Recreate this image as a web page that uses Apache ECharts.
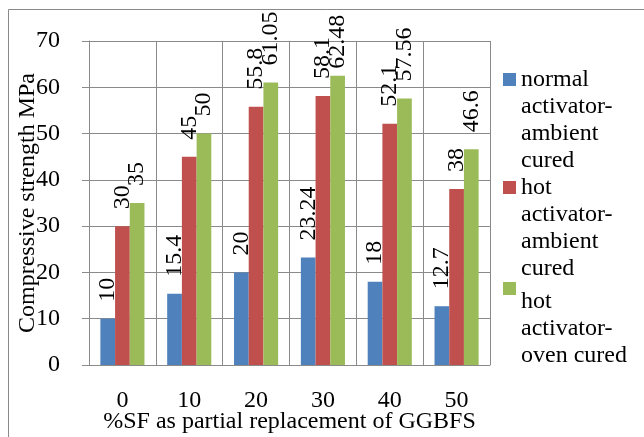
<!DOCTYPE html>
<html>
<head>
<meta charset="utf-8">
<script src="https://cdn.jsdelivr.net/npm/echarts@6/dist/echarts.min.js"></script>
<style>html,body{margin:0;padding:0;background:#fff}#c{width:644px;height:437px}</style>
</head>
<body>
<div id="c"></div>
<script>
var categories = ['0', '10', '20', '30', '40', '50'];
var seriesNames = ['normal activator-ambient cured', 'hot activator-ambient cured', 'hot activator-oven cured'];
var legendLabels = ['normal\nactivator-\nambient\ncured', 'hot\nactivator-\nambient\ncured', 'hot\nactivator-\noven cured'];
var normalAmbient = [10, 15.4, 20, 23.24, 18, 12.7];
var hotAmbient = [30, 45, 55.8, 58.1, 52.1, 38];
var hotOven = [35, 50, 61.05, 62.48, 57.56, 46.6];
var yTicks = [0, 10, 20, 30, 40, 50, 60, 70];

var colors = ['#4F81BD', '#C0504D', '#9BBB59'];
var FONT = '"Liberation Serif", "Times New Roman", serif';
var values = [normalAmbient, hotAmbient, hotOven];

var chart = echarts.init(document.getElementById('c'));
var series = values.map(function (arr, i) {
  return {
    name: seriesNames[i],
    type: 'bar',
    barGap: '0%',
    barCategoryGap: '34%',
    itemStyle: { color: colors[i] },
    label: {
      show: true, position: 'top', rotate: 90, distance: 17,
      align: 'left', verticalAlign: 'middle',
      fontFamily: FONT, fontSize: 24, color: '#000'
    },
    data: arr.map(function (v) {
      var d = { value: v };
      if (v > 62) d.label = { distance: 7 };
      return d;
    })
  };
});

chart.setOption({
  animation: false,
  textStyle: { fontFamily: FONT },
  graphic: [{
    type: 'rect', left: 6, top: 7, shape: { width: 700, height: 500 },
    style: { fill: 'none', stroke: '#8a8a8a', lineWidth: 1 }, silent: true
  }],
  grid: { left: 89, right: 154, top: 41, bottom: 72, outerBoundsMode: 'none', containLabel: false },
  legend: {
    orient: 'vertical', left: 498, top: 61, itemGap: 0,
    itemWidth: 13, itemHeight: 94,
    icon: 'path://M0,0H13V13H0ZM0,94L0.01,94',
    formatter: function (n) { return legendLabels[seriesNames.indexOf(n)]; },
    textStyle: { fontFamily: FONT, fontSize: 24, lineHeight: 27, color: '#000' },
    data: seriesNames
  },
  xAxis: {
    type: 'category', data: categories,
    name: '%SF as partial replacement of GGBFS', nameLocation: 'middle', nameGap: 45,
    nameMoveOverlap: false,
    nameTextStyle: { fontFamily: FONT, fontSize: 24, color: '#000' },
    axisLine: { show: true, lineStyle: { color: '#8a8a8a', width: 1 } },
    axisTick: { show: false },
    splitLine: { show: true, lineStyle: { color: '#8a8a8a', width: 1 } },
    axisLabel: { fontFamily: FONT, fontSize: 24, color: '#000', margin: 24 }
  },
  yAxis: {
    type: 'value', min: yTicks[0], max: yTicks[yTicks.length - 1], interval: 10,
    name: 'Compressive strength MPa', nameLocation: 'middle', nameGap: 49,
    nameMoveOverlap: false,
    nameTextStyle: { fontFamily: FONT, fontSize: 24, color: '#000' },
    axisLine: { show: true, lineStyle: { color: '#8a8a8a', width: 1 } },
    axisTick: { show: true, length: 7, inside: false, lineStyle: { color: '#8a8a8a' } },
    splitLine: { show: true, lineStyle: { color: '#8a8a8a', width: 1 } },
    axisLabel: { fontFamily: FONT, fontSize: 24, color: '#000', margin: 29 }
  },
  series: series
});
</script>
</body>
</html>
